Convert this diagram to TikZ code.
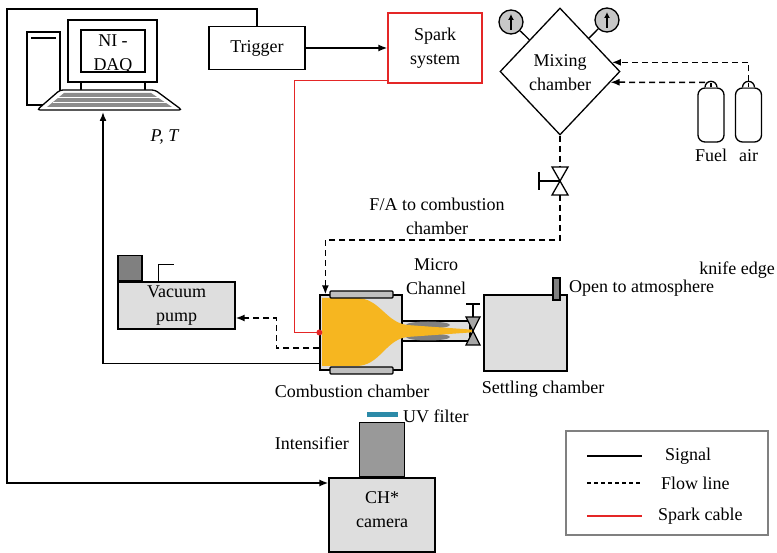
\documentclass[tikz,border=0pt]{standalone}
\usepackage{fontspec}
\setmainfont{Liberation Serif}
\usetikzlibrary{arrows.meta,shapes,positioning}

\definecolor{flame}{RGB}{246,182,32}
\definecolor{cablered}{RGB}{228,38,38}
\definecolor{uvblue}{RGB}{44,138,168}
\definecolor{lightbox}{RGB}{222,222,222}
\definecolor{darkbox}{RGB}{128,128,128}

\begin{document}
\begin{tikzpicture}[
        x=1pt, y=-1pt, >={Latex[length=9pt,width=7pt]},
        font=\fontsize{18}{24}\selectfont,
        every node/.style={align=center, inner sep=0pt},
        box/.style={draw, line width=1.3pt},
        grey/.style={box, fill=lightbox},
        signal/.style={line width=1.5pt},
        flow/.style={line width=1.5pt, dash pattern=on 6pt off 4pt},
        cable/.style={line width=1.6pt, draw=cablered},
        gauge/.style={draw, circle, fill=black!22, minimum size=24pt, line width=1.3pt},
        cyl/.style={draw, rounded corners=7pt, minimum width=26pt, minimum height=54pt, line width=1.3pt}
    ]
    \useasboundingbox (0,0) rectangle (777,553);

    % Computer
    \draw[line width=1.3pt, fill=white] (27,32) rectangle (60,105);
    \draw[line width=2.2pt] (31,38) -- (56,38);
    \draw[line width=1.3pt, fill=white] (68,20) rectangle (157,82);
    \node[box, minimum width=64pt, minimum height=42pt] (screen) at (113,51) {};
    \node (daq) at (113,54) {NI -\\DAQ};
    \draw[line width=1.3pt] (81,82) -- (81,90) (145,82) -- (145,90);
    \draw[line width=1.3pt, fill=white, rounded corners=3pt] (60,90) -- (155,90) -- (182,110) -- (37,110) -- cycle;
    \fill[black!45] (64,93) -- (151,93) -- (172,107) -- (47,107) -- cycle;
    \draw[white, line width=1.3pt] (58,97.5) -- (160,97.5) (53,102.5) -- (166,102.5);
    \coordinate (kbd) at (103,112);
    \node (ptlabel) at (165,137) {\textit{P, T}};

    % Nodes
    \node[box, minimum width=96pt, minimum height=43pt] (trig) at (257,48) {Trigger};
    \node[box, draw=cablered, minimum width=94pt, minimum height=70pt] (spark) at (435,48) {Spark\\system};

    \node[draw, diamond, line width=1.3pt, minimum width=120pt, minimum height=127pt] (mix) at (560,71.5) {};
    \node (mixlabel) at (560,73) {Mixing\\chamber};
    \node[gauge] (g1) at (511,22) {};
    \node[gauge] (g2) at (607,20) {};
    \draw[-{Latex[length=6pt,width=6pt]}, line width=1.8pt] ([yshift=-8pt]g1.center) -- ([yshift=8pt]g1.center);
    \draw[-{Latex[length=6pt,width=6pt]}, line width=1.8pt] ([yshift=-8pt]g2.center) -- ([yshift=8pt]g2.center);
    \draw[line width=1.3pt] (g1) -- (mix.134.5);
    \draw[line width=1.3pt] (g2) -- (mix.49);

    \node[cyl] (fuel) at (711,115) {};
    \node[cyl] (air) at (748.5,115) {};
    \draw[line width=1.3pt, fill=white] ([xshift=-6pt]fuel.north) arc (180:0:6pt);
    \draw[line width=1.3pt, fill=white] ([xshift=-6pt]air.north) arc (180:0:6pt);
    \draw[line width=1.3pt] (fuel.north) -- ++(0,-4) (air.north) -- ++(0,-4);
    \node[below=7pt of fuel, text height=12pt, text depth=3pt] (fuellabel) {Fuel};
    \node[below=7pt of air, text height=12pt, text depth=3pt] (airlabel) {air};

    \coordinate (feedvalve) at (560,181);
    \draw[line width=1.3pt, fill=white] (feedvalve) ++(-8,-14) -- ++(16,0) -- ++(-16,28) -- ++(16,0) -- cycle;
    \draw[line width=1.3pt] (feedvalve) -- ++(-21,0) ++(0,-9) -- ++(0,18);
    \node (falabel) at (437,216) {F/A to combustion\\chamber};

    \node[grey, minimum width=82pt, minimum height=75pt] (comb) at (361,332.5) {};
    \node[grey, minimum width=68pt, minimum height=20pt] (chan) at (436,331) {};
    \fill[darkbox] (428,325) ellipse [x radius=22pt, y radius=3.5pt];
    \fill[darkbox] (428,337) ellipse [x radius=22pt, y radius=3.5pt];
    \fill[flame] (322,298) -- (356,298) .. controls (380,298) and (385,322) .. (407,325)
        -- (470,329.5) -- (474,331) -- (470,332.5) -- (407,337)
        .. controls (385,340) and (380,366) .. (356,366) -- (322,366) -- cycle;
    \node[box, fill=black!25, rounded corners=1pt, minimum width=63pt, minimum height=7pt] (topplate) at (361.5,294.5) {};
    \node[box, fill=black!25, rounded corners=1pt, minimum width=63pt, minimum height=7pt] (botplate) at (361.5,370.5) {};

    \coordinate (chanvalve) at (473,331);
    \draw[line width=1.3pt, fill=darkbox!70] (chanvalve) ++(-7,-14) -- ++(14,0) -- ++(-14,28) -- ++(14,0) -- cycle;
    \draw[line width=1.3pt] (chanvalve) ++(0,-14) -- ++(0,-13) ++(-7,0) -- ++(14,0);

    \node[grey, minimum width=83pt, minimum height=76pt] (settle) at (525.5,333) {};
    \node[box, fill=darkbox, minimum width=7pt, minimum height=22pt] (vent) at (556.5,289) {};

    \node (channellabel) at (436,277) {Micro\\Channel};
    \node (comblabel) at (352,391) {Combustion chamber};
    \node (settlelabel) at (543,389) {Settling chamber};
    \node[anchor=west] (openlabel) at (569,288) {Open to atmosphere};
    \node[anchor=east] (knifelabel) at (775,270) {knife edge};

    \node[grey, minimum width=117pt, minimum height=47pt] (pump) at (176.5,305.5) {Vacuum\\pump};
    \node[box, fill=darkbox, minimum width=24pt, minimum height=25pt, anchor=south west] (motor) at (pump.north west) {};
    \draw[line width=1.3pt] ([xshift=41pt]pump.north west) -- ++(0,-17) -- ++(16,0);

    \node[grey, minimum width=106pt, minimum height=74pt] (cam) at (382,515) {};
    \node (camlabel) at (382,510) {CH*\\camera};
    \node[box, fill=black!40, minimum width=45pt, minimum height=54pt, anchor=south] (intens) at (cam.north) {};
    \node[fill=uvblue, minimum width=31pt, minimum height=5pt, above=5pt of intens] (uv) {};
    \node[anchor=east] (intenslabel) at (349,443) {Intensifier};
    \node[anchor=west] (uvlabel) at (403,416) {UV filter};

    % Edges
    \draw[signal,->] (trig.east) -- (spark.west);
    \draw[signal,->] (trig.north) -- ++(0,-17) -- ++(-250,0) |- ([yshift=32pt]cam.west);
    \draw[signal,->] ([yshift=-31pt]comb.west) -| (kbd);
    \draw[cable] ([yshift=3pt]spark.south west) -- ++(-93,0) |- (comb.west);
    \fill[cablered] (comb.west) circle (3pt);
    \draw[flow,->] (air.north) ++(0,-6) |- (mix.10.5);
    \draw[flow,->] ([xshift=-6pt,yshift=5pt]fuel.north) -- (mix.-12.5);
    \draw[flow] (mix.south) -- ([yshift=14pt]feedvalve);
    \draw[flow,->] ([yshift=-14pt]feedvalve) -- ++(0,45) -| ([xshift=6pt]comb.north west);
    \draw[flow,->] ([yshift=-15.5pt]comb.west) -- ++(-43,0) |- ([yshift=-12.5pt]pump.east);

    % Legend
    \node[draw=black!50, line width=1.3pt, minimum width=202pt, minimum height=104pt] (legend) at (667,483) {};
    \draw[signal] (587,456) -- (642,456);
    \node[anchor=west] (sigentry) at (665,456) {Signal};
    \draw[flow, dash pattern=on 4pt off 3pt] (587,483) -- (642,483);
    \node[anchor=west] (flowentry) at (661,483) {Flow line};
    \draw[cable, line width=2pt] (587,516) -- (642,516);
    \node[anchor=west] (cableentry) at (658,516) {Spark cable};

\end{tikzpicture}
\end{document}
